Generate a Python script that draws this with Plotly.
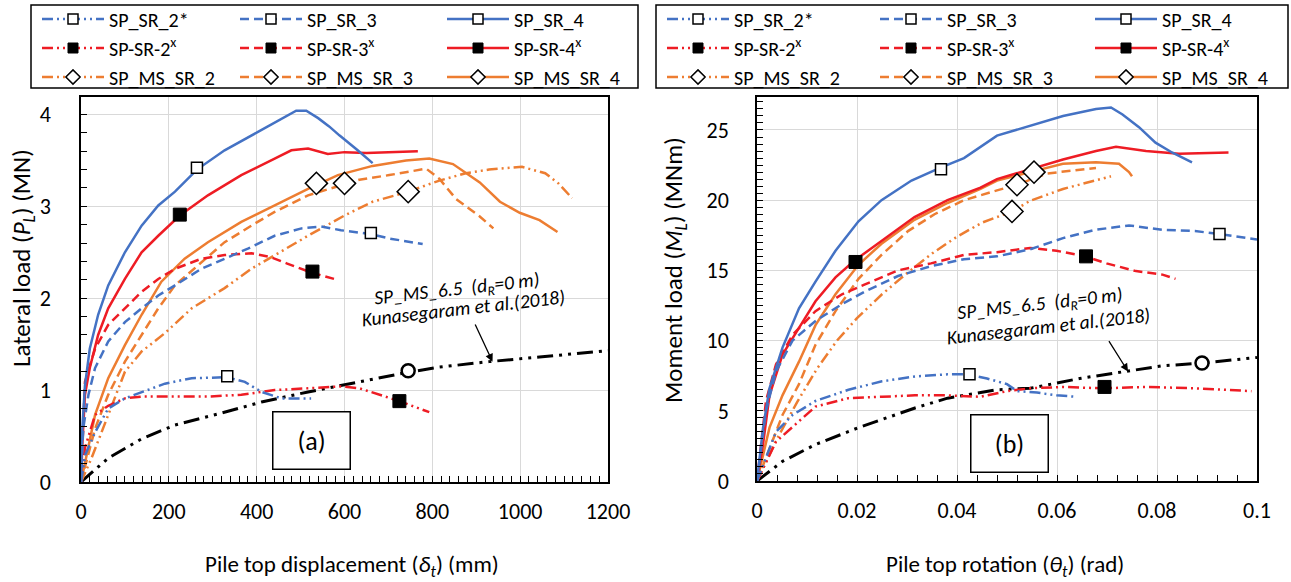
import plotly.graph_objects as go

# ---------------- data : panel (a)  displacement (mm) vs lateral load (MN)
A_SR4_X = [0, 3, 9, 20, 39, 62, 100, 138, 176, 214, 264, 327, 403, 456, 490, 513, 540, 565, 589, 630, 664]
A_SR4_Y = [0, 0.58, 1.05, 1.45, 1.82, 2.14, 2.50, 2.79, 3.01, 3.16, 3.40, 3.61, 3.81, 3.95, 4.04, 4.04, 3.96, 3.87, 3.77, 3.61, 3.47]
A_SR4X_X = [0, 3, 9, 20, 39, 62, 100, 138, 176, 225, 289, 365, 441, 479, 517, 562, 600, 650, 700, 767]
A_SR4X_Y = [0, 0.40, 0.95, 1.24, 1.60, 1.89, 2.21, 2.50, 2.68, 2.90, 3.12, 3.34, 3.52, 3.61, 3.63, 3.57, 3.59, 3.58, 3.59, 3.60]
A_MS4_X = [0, 17, 32, 62, 100, 138, 183, 236, 289, 365, 441, 517, 585, 664, 740, 793, 847, 908, 954, 999, 1044, 1085]
A_MS4_Y = [0, 0.40, 0.73, 1.13, 1.49, 1.82, 2.18, 2.43, 2.61, 2.83, 3.01, 3.19, 3.34, 3.44, 3.50, 3.52, 3.46, 3.26, 3.05, 2.93, 2.85, 2.72]
A_MS3_X = [0, 32, 62, 100, 138, 176, 214, 274, 327, 388, 441, 517, 596, 634, 702, 786, 816, 854, 908, 939]
A_MS3_Y = [0, 0.58, 0.95, 1.31, 1.60, 1.89, 2.14, 2.39, 2.61, 2.79, 2.94, 3.12, 3.23, 3.29, 3.34, 3.41, 3.30, 3.08, 2.89, 2.76]
A_MS2_X = [0, 24, 62, 100, 138, 191, 252, 327, 388, 441, 517, 600, 664, 745, 816, 876, 929, 1004, 1057, 1087, 1118]
A_MS2_Y = [0, 0.26, 0.73, 1.20, 1.42, 1.62, 1.89, 2.11, 2.32, 2.47, 2.68, 2.90, 3.05, 3.16, 3.28, 3.36, 3.40, 3.43, 3.36, 3.25, 3.09]
A_SR3_X = [0, 5, 17, 32, 62, 100, 138, 176, 214, 274, 327, 380, 441, 502, 547, 592, 657, 702, 778]
A_SR3_Y = [0, 0.58, 0.95, 1.24, 1.53, 1.74, 1.89, 2.03, 2.14, 2.32, 2.43, 2.54, 2.68, 2.76, 2.78, 2.74, 2.70, 2.65, 2.59]
A_SR3X_X = [0, 9, 32, 62, 100, 138, 176, 214, 274, 327, 388, 430, 468, 524, 584]
A_SR3X_Y = [0, 1.09, 1.45, 1.71, 1.89, 2.07, 2.21, 2.32, 2.43, 2.47, 2.49, 2.45, 2.38, 2.28, 2.20]
A_SR2_X = [0, 10, 32, 62, 100, 138, 191, 252, 297, 331, 373, 411, 456, 524]
A_SR2_Y = [0, 0.30, 0.54, 0.80, 0.91, 0.98, 1.07, 1.13, 1.14, 1.14, 1.09, 0.98, 0.91, 0.91]
A_SR2X_X = [0, 9, 32, 62, 100, 138, 214, 289, 365, 441, 517, 592, 634, 679, 725, 793]
A_SR2X_Y = [0, 0.37, 0.73, 0.83, 0.91, 0.93, 0.93, 0.93, 0.95, 1.00, 1.02, 1.04, 1.02, 0.95, 0.88, 0.76]
A_REF_X = [0, 62, 138, 214, 320, 411, 517, 592, 649, 740, 816, 929, 1044, 1200]
A_REF_Y = [0, 0.26, 0.47, 0.62, 0.75, 0.87, 0.98, 1.05, 1.10, 1.19, 1.25, 1.31, 1.36, 1.43]

# marker points (a): [x, y] per series
A_MK = {
    "SR2": [333, 1.15], "SR3": [660, 2.71], "SR4": [264, 3.42],
    "SR2X": [725, 0.88], "SR3X": [527, 2.29], "SR4X": [225, 2.91],
    "MS2": [745, 3.16], "MS3": [600, 3.25], "MS4": [536, 3.25],
    "REF": [745, 1.21],
}

# ---------------- data : panel (b)  rotation (rad) vs moment load (MNm)
B_SR4_X = [0, 0.0012, 0.0025, 0.0051, 0.0084, 0.0117, 0.0157, 0.0203, 0.0249, 0.0309, 0.0366, 0.0414, 0.048, 0.0546, 0.0612, 0.0678, 0.0708, 0.0731, 0.0764, 0.0797, 0.083, 0.087]
B_SR4_Y = [0, 3.76, 6.6, 9.5, 12.3, 14.2, 16.4, 18.5, 20.0, 21.4, 22.3, 23.0, 24.6, 25.3, 26.0, 26.5, 26.6, 26.1, 25.2, 24.1, 23.4, 22.7]
B_SR4X_X = [0, 0.0012, 0.0025, 0.0051, 0.0084, 0.0117, 0.0157, 0.0195, 0.0249, 0.0315, 0.0381, 0.0447, 0.048, 0.0546, 0.0612, 0.0678, 0.0718, 0.0778, 0.0844, 0.0943]
B_SR4X_Y = [0, 2.6, 6.1, 9.0, 10.9, 12.8, 14.5, 15.7, 17.1, 18.8, 20.0, 20.9, 21.5, 22.2, 22.9, 23.5, 23.8, 23.5, 23.3, 23.4]
B_MS4_X = [0, 0.0025, 0.0051, 0.0084, 0.0117, 0.0157, 0.0203, 0.0249, 0.0315, 0.0381, 0.0447, 0.048, 0.0546, 0.0612, 0.0678, 0.0724, 0.0744, 0.075]
B_MS4_Y = [0, 3.8, 6.1, 8.5, 11.1, 13.3, 15.4, 16.9, 18.6, 19.8, 20.8, 21.4, 22.0, 22.6, 22.7, 22.6, 22.0, 21.7]
B_MS3_X = [0, 0.0051, 0.0084, 0.0117, 0.0157, 0.0203, 0.0249, 0.0302, 0.0355, 0.0414, 0.048, 0.052, 0.058, 0.0646, 0.0678]
B_MS3_Y = [0, 4.7, 6.9, 9.7, 12.1, 14.4, 16.1, 17.8, 19.0, 20.0, 20.7, 21.1, 21.9, 22.2, 22.3]
B_MS2_X = [0, 0.004, 0.008, 0.012, 0.016, 0.02, 0.025, 0.03, 0.035, 0.04, 0.045, 0.051, 0.0546, 0.0612, 0.0708]
B_MS2_Y = [0, 3.0, 5.6, 8.0, 10.0, 11.6, 13.3, 14.8, 16.2, 17.4, 18.4, 19.2, 19.95, 20.8, 21.7]
B_SR3_X = [0, 0.0018, 0.0038, 0.0071, 0.0117, 0.017, 0.0216, 0.0282, 0.0348, 0.0414, 0.048, 0.0546, 0.0612, 0.0678, 0.0744, 0.081, 0.0876, 0.0923, 0.1]
B_SR3_Y = [0, 5.0, 7.8, 10.0, 11.4, 12.6, 13.5, 14.6, 15.3, 15.8, 16.0, 16.5, 17.3, 17.9, 18.2, 17.9, 17.8, 17.6, 17.2]
B_SR3X_X = [0, 0.0018, 0.0038, 0.0071, 0.0117, 0.017, 0.0216, 0.0282, 0.0348, 0.0414, 0.048, 0.0546, 0.0599, 0.0656, 0.0699, 0.0758, 0.0811, 0.0837]
B_SR3X_Y = [0, 5.7, 8.3, 10.4, 12.1, 13.3, 14.0, 15.0, 15.5, 16.1, 16.3, 16.6, 16.4, 16.0, 15.5, 14.95, 14.7, 14.4]
B_SR2_X = [0, 0.0038, 0.0071, 0.0117, 0.0183, 0.025, 0.0316, 0.0381, 0.0419, 0.046, 0.050, 0.052, 0.056, 0.0599, 0.0639]
B_SR2_Y = [0, 3.5, 4.7, 5.7, 6.5, 7.1, 7.45, 7.6, 7.6, 7.3, 6.9, 6.4, 6.3, 6.1, 6.0]
B_SR2X_X = [0, 0.0038, 0.0117, 0.0183, 0.025, 0.0316, 0.0381, 0.0447, 0.050, 0.0546, 0.0612, 0.0692, 0.0777, 0.0876, 0.0989]
B_SR2X_Y = [0, 2.8, 5.3, 5.9, 6.0, 6.1, 6.1, 6.0, 6.4, 6.6, 6.7, 6.6, 6.7, 6.6, 6.4]
B_REF_X = [0, 0.0051, 0.0117, 0.0203, 0.0316, 0.0381, 0.048, 0.0546, 0.0645, 0.0737, 0.081, 0.089, 0.1]
B_REF_Y = [0, 1.4, 2.6, 3.8, 5.2, 5.9, 6.5, 6.6, 7.3, 7.8, 8.2, 8.4, 8.8]

B_MK = {
    "SR2": [0.0425, 7.6], "SR3": [0.0925, 17.6], "SR4": [0.0368, 22.2],
    "SR2X": [0.0695, 6.7], "SR3X": [0.0658, 16.0], "SR4X": [0.0197, 15.6],
    "MS2": [0.0510, 19.2], "MS3": [0.0520, 21.1], "MS4": [0.0554, 22.0],
    "REF": [0.089, 8.4],
}

KEYS = ["SR2", "SR3", "SR4", "SR2X", "SR3X", "SR4X", "MS2", "MS3", "MS4"]
NAMES = ["SP_SR_2*", "SP_SR_3", "SP_SR_4",
         "SP-SR-2<sup>x</sup>", "SP-SR-3<sup>x</sup>", "SP-SR-4<sup>x</sup>",
         "SP_MS_SR_2", "SP_MS_SR_3", "SP_MS_SR_4"]

A_DATA = {"SR2": (A_SR2_X, A_SR2_Y), "SR3": (A_SR3_X, A_SR3_Y), "SR4": (A_SR4_X, A_SR4_Y),
          "SR2X": (A_SR2X_X, A_SR2X_Y), "SR3X": (A_SR3X_X, A_SR3X_Y), "SR4X": (A_SR4X_X, A_SR4X_Y),
          "MS2": (A_MS2_X, A_MS2_Y), "MS3": (A_MS3_X, A_MS3_Y), "MS4": (A_MS4_X, A_MS4_Y),
          "REF": (A_REF_X, A_REF_Y)}
B_DATA = {"SR2": (B_SR2_X, B_SR2_Y), "SR3": (B_SR3_X, B_SR3_Y), "SR4": (B_SR4_X, B_SR4_Y),
          "SR2X": (B_SR2X_X, B_SR2X_Y), "SR3X": (B_SR3X_X, B_SR3X_Y), "SR4X": (B_SR4X_X, B_SR4X_Y),
          "MS2": (B_MS2_X, B_MS2_Y), "MS3": (B_MS3_X, B_MS3_Y), "MS4": (B_MS4_X, B_MS4_Y),
          "REF": (B_REF_X, B_REF_Y)}

# ---------------- styles
BLUE, RED, ORANGE = "#4472C4", "#EE1C24", "#ED7D31"
DDD = "11px,4px,2px,4px,2px,4px"
DASH = "9px,5px"
SOLID = "solid"
OPEN_SQ = dict(symbol="square", color="white", size=11, line=dict(color="black", width=1.5))
FILL_SQ = dict(symbol="square", color="black", size=13, line=dict(color="black", width=1))
OPEN_DI = dict(symbol="diamond", color="white", size=17, line=dict(color="black", width=1.5))
STYLE = {
    "SR2": (BLUE, DDD, OPEN_SQ), "SR3": (BLUE, DASH, OPEN_SQ), "SR4": (BLUE, SOLID, OPEN_SQ),
    "SR2X": (RED, DDD, FILL_SQ), "SR3X": (RED, DASH, FILL_SQ), "SR4X": (RED, SOLID, FILL_SQ),
    "MS2": (ORANGE, DDD, OPEN_DI), "MS3": (ORANGE, DASH, OPEN_DI), "MS4": (ORANGE, SOLID, OPEN_DI),
}
FONT = "Carlito, Lato, sans-serif"
W, H = 1291, 582

fig = go.Figure()


def add_panel(data, marks, xa, ya):
    for k in ["REF"] + KEYS[::-1]:
        xs, ys = data[k]
        if k == "REF":
            line = dict(color="black", width=3, dash="16px,6px,3px,6px,3px,6px")
        else:
            c, d, _ = STYLE[k]
            line = dict(color=c, width=2.5, dash=d)
        fig.add_trace(go.Scatter(x=xs, y=ys, mode="lines", line=line, showlegend=False,
                                 hoverinfo="skip", xaxis=xa, yaxis=ya))
    for k in KEYS + ["REF"]:
        mx, my = marks[k]
        if k == "REF":
            mk = dict(symbol="circle", color="white", size=13, line=dict(color="black", width=2.5))
        else:
            mk = dict(STYLE[k][2])
        fig.add_trace(go.Scatter(x=[mx], y=[my], mode="markers", marker=mk, showlegend=False,
                                 cliponaxis=False, hoverinfo="skip", xaxis=xa, yaxis=ya))


add_panel(A_DATA, A_MK, "x", "y")
add_panel(B_DATA, B_MK, "x2", "y2")

# ---------------- legends (one per entry for exact 3x3 placement)
COLS_A = [41, 239, 446]
COLS_B = [666, 879, 1094]
ROWS = [19, 48, 77]
legend_layout = {}
n = 0
for cols in (COLS_A, COLS_B):
    for i, k in enumerate(KEYS):
        n += 1
        lname = "legend" if n == 1 else f"legend{n}"
        c, d, mk = STYLE[k]
        mk = dict(mk)
        mk["size"] = 10 if mk["symbol"] == "square" else 11
        fig.add_trace(go.Scatter(x=[None], y=[None], mode="lines+markers", name=NAMES[i],
                                 line=dict(color=c, width=2.5, dash=d), marker=mk,
                                 legend=lname, xaxis="x", yaxis="y"))
        legend_layout[lname] = dict(
            x=(cols[i % 3] - 4) / W, y=1 - ROWS[i // 3] / H, xanchor="left", yanchor="middle",
            bgcolor="rgba(0,0,0,0)", borderwidth=0, itemwidth=62,
            font=dict(family=FONT, size=20, color="black"))

axis_common = dict(showline=True, linecolor="black", linewidth=1.5, mirror=True,
                   ticks="inside", ticklen=6, tickcolor="black", tickwidth=1,
                   showgrid=True, gridcolor="#d9d9d9", gridwidth=1, zeroline=False,
                   automargin=False,
                   tickfont=dict(family=FONT, size=22, color="black"))

fig.update_layout(
    width=W, height=H, margin=dict(l=0, r=0, t=0, b=0, autoexpand=False),
    paper_bgcolor="white", plot_bgcolor="white",
    xaxis=dict(domain=[81 / W, 608 / W], range=[0, 1200], dtick=200, anchor="y",
               minor=dict(dtick=20, ticks="inside", ticklen=6, tickcolor="black", showgrid=False),
               ticklabelstandoff=9, **axis_common),
    yaxis=dict(domain=[1 - 482 / H, 1 - 97 / H], range=[0, 4.19], dtick=1, anchor="x",
               minor=dict(dtick=0.2, ticks="inside", ticklen=6, tickcolor="black", showgrid=False),
               ticklabelstandoff=24, **axis_common),
    xaxis2=dict(domain=[757 / W, 1257 / W], range=[0, 0.1], anchor="y2",
                tickvals=[0, 0.02, 0.04, 0.06, 0.08, 0.1], ticktext=["0", "0.02", "0.04", "0.06", "0.08", "0.1"],
                minor=dict(dtick=0.004, ticks="inside", ticklen=6, tickcolor="black", showgrid=False),
                ticklabelstandoff=9, **axis_common),
    yaxis2=dict(domain=[1 - 481 / H, 1 - 97 / H], range=[0, 27.35], dtick=5, anchor="x2",
                minor=dict(dtick=0.5, ticks="inside", ticklen=6, tickcolor="black", showgrid=False),
                ticklabelstandoff=22, **axis_common),
    **legend_layout,
)

# legend frames
for x0, x1 in ((31, 638), (656, 1288)):
    fig.add_shape(type="rect", xref="paper", yref="paper", x0=x0 / W, x1=x1 / W,
                  y0=1 - 88 / H, y1=1 - 5 / H, line=dict(color="black", width=1.5))

# axis titles
for txt, px, py, ang, fs in (("Lateral load (<i>P<sub>L</sub></i>) (MN)", 23, 258, -90, 25),
                             ("Moment load (<i>M<sub>L</sub></i>) (MNm)", 675, 270, -90, 25),
                             ("Pile top displacement (<i>δ<sub>t</sub></i>) (mm)", 352, 565, 0, 23),
                             ("Pile top rotation (<i>θ<sub>t</sub></i>) (rad)", 1005, 565, 0, 23)):
    fig.add_annotation(text=txt, xref="paper", yref="paper", x=px / W, y=1 - py / H,
                       xanchor="center", yanchor="middle", textangle=ang, showarrow=False,
                       font=dict(family=FONT, size=fs, color="black"))

# reference-curve notes, arrows and panel labels
NF = dict(family=FONT, size=19.5, color="black")
for xa, ya, p1, p2, tail, head, box, lab in (
        ("x", "y", (857, 2.09), (869, 1.89), (896, 1.73), (937, 1.31), (525, 0.45), "(a)"),
        ("x2", "y2", (0.0566, 12.55), (0.0582, 11.05), (0.0702, 10.07), (0.0742, 7.8), (0.0505, 2.7), "(b)")):
    fig.add_annotation(text="<i>SP_MS_6.5  (d<sub>R</sub>=0 m)</i>", x=p1[0], y=p1[1], xref=xa, yref=ya,
                       showarrow=False, textangle=-6.5, font=NF)
    fig.add_annotation(text="<i>Kunasegaram et al.(2018)</i>", x=p2[0], y=p2[1], xref=xa, yref=ya,
                       showarrow=False, textangle=-6.5, font=NF)
    fig.add_annotation(text="", x=head[0], y=head[1], ax=tail[0], ay=tail[1], xref=xa, yref=ya,
                       axref=xa, ayref=ya, showarrow=True, arrowhead=2, arrowsize=1.2,
                       arrowwidth=1.3, arrowcolor="black")
    fig.add_annotation(text=lab, x=box[0], y=box[1], xref=xa, yref=ya, showarrow=False,
                       width=70, height=50, borderpad=3, bordercolor="black", borderwidth=1.5,
                       bgcolor="white", font=dict(family=FONT, size=26, color="black"))

fig.write_html("out.html", config={"displayModeBar": False},
               post_script="document.body.style.margin='0';")
